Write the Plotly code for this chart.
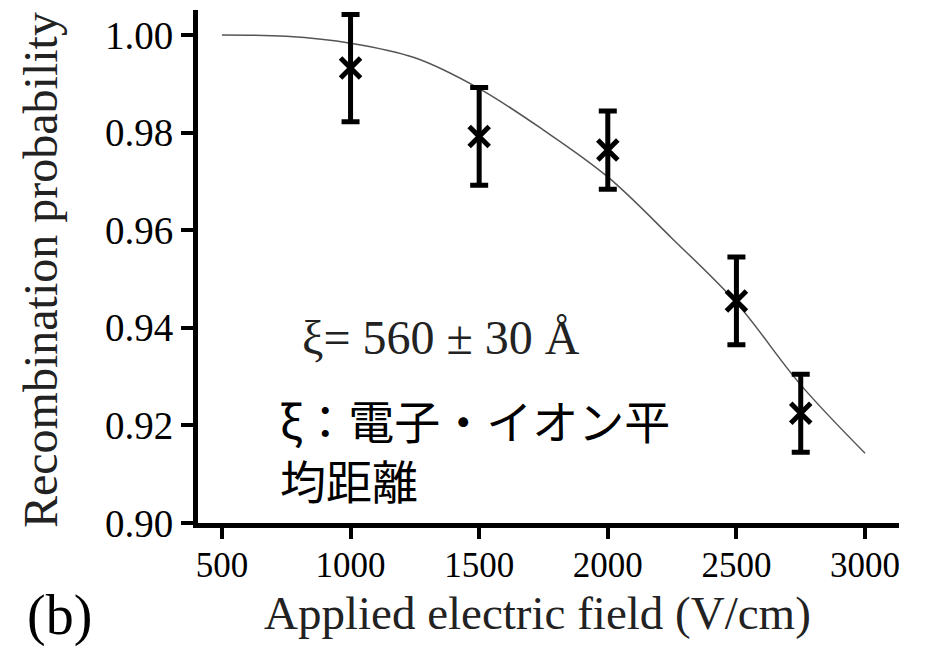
import plotly.graph_objects as go

# Measured recombination probability vs applied field
field = [1000, 1500, 2000, 2500, 2750]
prob = [0.9932, 0.9792, 0.9764, 0.9455, 0.9225]
prob_err = [0.011, 0.010, 0.008, 0.009, 0.008]

# Fitted curve (xi = 560 A)
fit_field = [500, 750, 1000, 1250, 1500, 1750, 2000, 2250, 2500, 2750, 3000]
fit_prob = [1.0000, 0.9997, 0.9983, 0.9953, 0.9890, 0.9805, 0.9709, 0.9583,
            0.9451, 0.9283, 0.9143]

x_ticks = [500, 1000, 1500, 2000, 2500, 3000]
y_ticks = [0.90, 0.92, 0.94, 0.96, 0.98, 1.00]

SERIF = "Times New Roman"
CJK = "Noto Sans CJK JP"

fig = go.Figure()

fig.add_trace(go.Scatter(
    x=fit_field, y=fit_prob, mode="lines",
    line=dict(color="#555555", width=1.5, shape="spline", smoothing=1.0),
    showlegend=False, hoverinfo="skip",
))

fig.add_trace(go.Scatter(
    x=field, y=prob, mode="markers",
    marker=dict(symbol="x-thin", size=20, color="black",
                line=dict(color="black", width=5)),
    error_y=dict(type="data", array=prob_err, visible=True,
                 color="black", thickness=5, width=9),
    showlegend=False,
))

fig.update_layout(
    width=928, height=649,
    margin=dict(l=198, r=29, t=10, b=126),
    paper_bgcolor="white", plot_bgcolor="white",
    font=dict(family=SERIF, color="black"),
    xaxis=dict(
        range=[407, 3132], tickvals=x_ticks,
        ticks="outside", ticklen=11, tickwidth=4, tickcolor="black",
        showline=True, linewidth=5, linecolor="black",
        showgrid=False, zeroline=False, ticklabelstandoff=-4,
        tickfont=dict(family=SERIF, size=35, color="black"),
    ),
    yaxis=dict(
        range=[0.90, 1.0051], tickvals=y_ticks, tickformat=".2f",
        ticks="outside", ticklen=12, tickwidth=4, tickcolor="black",
        showline=True, linewidth=5, linecolor="black",
        showgrid=False, zeroline=False,
        tickfont=dict(family=SERIF, size=39, color="black"),
    ),
)

annotations = [
    dict(text="Applied electric field (V/cm)", xref="paper", yref="paper",
         x=0.4836, y=-0.1755, xanchor="center", yanchor="middle",
         showarrow=False, font=dict(family=SERIF, size=47, color="#222222")),
    dict(text="Recombination probability", xref="paper", yref="paper",
         x=-0.2255, y=0.493, xanchor="center", yanchor="middle", textangle=-90,
         showarrow=False, font=dict(family=SERIF, size=48, color="#222222")),
    dict(text="(b)", xref="paper", yref="paper",
         x=-0.197, y=-0.181, xanchor="center", yanchor="middle",
         showarrow=False, font=dict(family=SERIF, size=56, color="black")),
    dict(text="ξ= 560 ± 30 Å", xref="x", yref="y",
         x=803, y=0.9380, xanchor="left", yanchor="middle",
         showarrow=False, font=dict(family=SERIF, size=48, color="#222222")),
    dict(text="ξ：電子・イオン平<br>均距離", xref="x", yref="y",
         x=718, y=0.9285, xanchor="left", yanchor="top", align="left",
         showarrow=False, font=dict(family=CJK, size=46, color="black")),
]
fig.update_layout(annotations=annotations)

fig.write_html("out.html")
